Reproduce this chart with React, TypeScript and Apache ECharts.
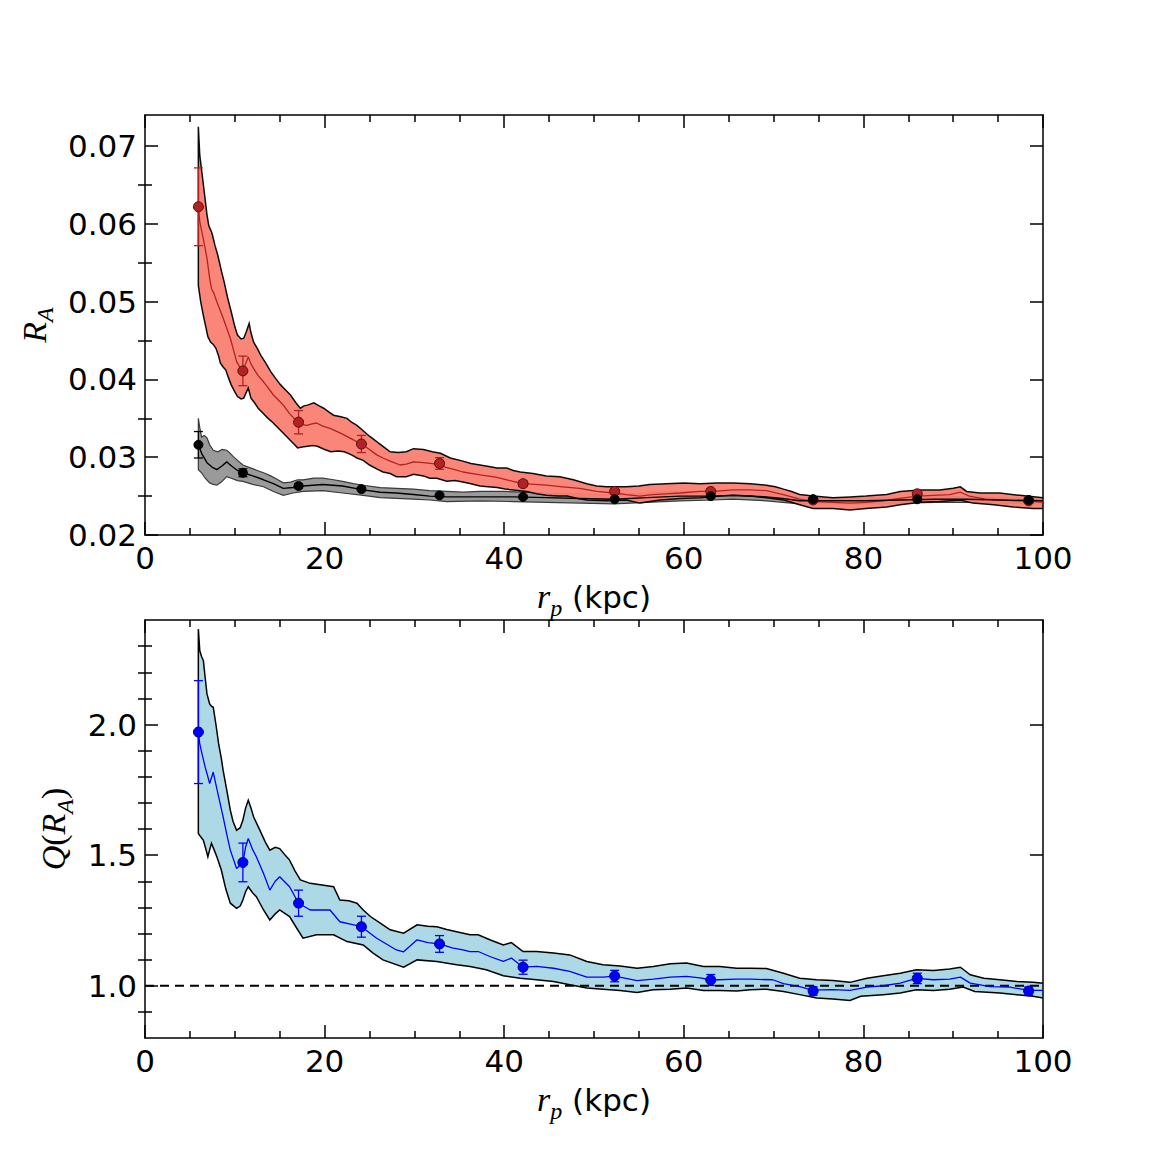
import React, { useEffect, useRef } from "react";
import * as echarts from "echarts";

// ---------- axis ticks ----------
const xMajor = [0, 20, 40, 60, 80, 100];
const yTopMajor = [0.02, 0.03, 0.04, 0.05, 0.06, 0.07];
const yTopMinor = [0.025, 0.035, 0.045, 0.055, 0.065];
const yBotMajor = [1.0, 1.5, 2.0];
const yBotMinor = [0.9, 1.1, 1.2, 1.3, 1.4, 1.6, 1.7, 1.8, 1.9, 2.1, 2.2, 2.3];

// ---------- top panel: R_A ----------
const redUpper = [
  [5.94, 0.0725], [6.1, 0.0688], [6.4, 0.066], [6.6, 0.0641], [6.9, 0.0612], [7.1, 0.0598], [7.4, 0.059], [7.5, 0.0586],
  [7.8, 0.0572], [8.1, 0.056], [8.5, 0.054], [8.8, 0.0526], [9.2, 0.0505], [9.6, 0.0487], [10.0, 0.0468], [10.3, 0.0457],
  [10.7, 0.0452], [11.0, 0.0453], [11.3, 0.0462], [11.6, 0.0472], [11.8, 0.046], [12.1, 0.0448], [12.5, 0.044], [12.9, 0.0431],
  [13.5, 0.042], [14.0, 0.041], [14.5, 0.0402], [15.1, 0.0393], [15.6, 0.0387], [16.2, 0.038], [16.8, 0.037], [17.3, 0.0363],
  [17.7, 0.0366], [18.1, 0.0367], [18.8, 0.037], [19.4, 0.0366], [19.9, 0.0363], [20.5, 0.0358], [21.0, 0.0354], [21.8, 0.0352],
  [22.5, 0.035], [23.0, 0.0345], [23.6, 0.0341], [24.3, 0.0334], [25.0, 0.0327], [25.8, 0.032], [26.5, 0.0314], [27.3, 0.0307],
  [28.2, 0.0306], [29.1, 0.0307], [29.9, 0.0311], [31.0, 0.031], [32.0, 0.0307], [32.9, 0.0305], [34.0, 0.0299], [35.4, 0.0295],
  [36.3, 0.0292], [37.3, 0.029], [38.3, 0.0288], [39.2, 0.0286], [40.3, 0.0286], [41.0, 0.0283], [41.8, 0.0281], [43.2, 0.0279],
  [44.7, 0.0276], [46.2, 0.0275], [47.7, 0.0271], [49.2, 0.0266], [50.3, 0.0263], [51.4, 0.0262], [52.5, 0.0262], [53.6, 0.0262],
  [55.0, 0.0263], [56.2, 0.0265], [58.1, 0.0266], [60.0, 0.0267], [61.8, 0.0266], [63.7, 0.0267], [65.5, 0.0267], [67.4, 0.0266],
  [69.2, 0.0264], [70.2, 0.0262], [71.1, 0.0259], [72.0, 0.0256], [72.9, 0.0252], [74.4, 0.025], [76.6, 0.0248], [78.5, 0.0249],
  [80.3, 0.025], [82.6, 0.0252], [84.1, 0.0256], [86.3, 0.0258], [88.5, 0.0258], [90.0, 0.026], [90.8, 0.0262], [91.5, 0.0256],
  [93.0, 0.0254], [95.2, 0.0254], [97.4, 0.0251], [100, 0.0248],
];
const redLower = [
  [5.94, 0.0521], [6.2, 0.05], [6.5, 0.0482], [6.8, 0.0466], [7.0, 0.0455], [7.3, 0.0448], [7.6, 0.0445], [7.9, 0.044],
  [8.2, 0.043], [8.4, 0.0421], [8.7, 0.0416], [9.0, 0.0412], [9.3, 0.0402], [9.6, 0.0393], [10.0, 0.0384], [10.3, 0.0378],
  [10.7, 0.0375], [11.0, 0.0376], [11.3, 0.0384], [11.5, 0.0389], [11.8, 0.0376], [12.2, 0.037], [12.6, 0.0363], [13.2, 0.0356],
  [13.7, 0.035], [14.2, 0.0345], [14.8, 0.0338], [15.3, 0.0332], [15.9, 0.0325], [16.5, 0.0318], [17.0, 0.0312], [17.5, 0.0313],
  [18.1, 0.0314], [18.7, 0.0315], [19.2, 0.0314], [20.0, 0.031], [20.7, 0.0307], [21.5, 0.0308], [22.2, 0.0307], [23.0, 0.0303],
  [23.6, 0.0299], [24.3, 0.0296], [25.0, 0.029], [25.8, 0.0285], [26.5, 0.0281], [27.3, 0.0279], [28.0, 0.0275], [29.1, 0.0275],
  [29.9, 0.0278], [31.0, 0.0276], [31.7, 0.0273], [32.5, 0.0273], [33.6, 0.0269], [34.5, 0.027], [35.4, 0.0268], [36.3, 0.0266],
  [37.3, 0.0263], [38.2, 0.0262], [39.2, 0.0261], [40.1, 0.0259], [41.0, 0.0258], [42.5, 0.0256], [43.6, 0.0253], [44.7, 0.0251],
  [46.0, 0.025], [47.0, 0.025], [48.2, 0.0247], [49.2, 0.0245], [51.4, 0.0244], [53.6, 0.0245], [55.1, 0.0241], [56.2, 0.0243],
  [57.4, 0.0245], [59.6, 0.0247], [61.8, 0.0248], [64.0, 0.025], [65.5, 0.0251], [67.4, 0.025], [69.2, 0.0248], [71.1, 0.0245],
  [72.0, 0.0242], [72.9, 0.0239], [74.4, 0.0234], [76.6, 0.0234], [78.5, 0.0232], [80.3, 0.0234], [82.6, 0.0236], [84.1, 0.0239],
  [86.3, 0.0242], [88.5, 0.0243], [90.8, 0.0245], [92.2, 0.0241], [94.5, 0.0239], [96.7, 0.0236], [98.9, 0.0234], [100, 0.0234],
];
const redCenter = [
  [5.94, 0.0622], [6.1, 0.0603], [6.5, 0.058], [6.9, 0.0556], [7.2, 0.053], [7.4, 0.0517], [7.7, 0.051], [8.0, 0.05],
  [8.4, 0.0488], [8.7, 0.0479], [9.1, 0.0466], [9.5, 0.0453], [9.9, 0.0436], [10.2, 0.0423], [10.6, 0.0415], [10.9, 0.0411],
  [11.2, 0.042], [11.5, 0.0429], [11.8, 0.042], [12.1, 0.0414], [12.6, 0.0405], [13.2, 0.0397], [13.8, 0.0388], [14.3, 0.038],
  [14.9, 0.0373], [15.4, 0.0367], [16.1, 0.0356], [16.6, 0.035], [17.1, 0.0345], [17.6, 0.0342], [18.0, 0.0341], [18.6, 0.0343],
  [19.1, 0.0344], [19.8, 0.034], [20.6, 0.0337], [21.4, 0.0333], [22.1, 0.0329], [23.1, 0.0323], [24.1, 0.0317], [25.0, 0.031],
  [25.8, 0.0303], [26.5, 0.0299], [27.3, 0.0295], [28.4, 0.029], [29.1, 0.0291], [29.9, 0.0294], [31.0, 0.0293], [32.5, 0.0291],
  [33.5, 0.0287], [34.5, 0.0284], [35.4, 0.0281], [36.5, 0.0279], [37.5, 0.0277], [39.2, 0.0274], [40.3, 0.0271], [41.0, 0.0269],
  [42.1, 0.0266], [43.4, 0.0265], [44.7, 0.0264], [46.5, 0.0262], [48.4, 0.026], [50.3, 0.0256], [52.2, 0.0254], [53.6, 0.0252],
  [55.1, 0.025], [56.5, 0.0252], [58.0, 0.0253], [59.6, 0.0254], [61.8, 0.0256], [63.3, 0.0256], [65.5, 0.0258], [67.4, 0.0258],
  [69.2, 0.0257], [71.1, 0.0252], [72.9, 0.0246], [74.5, 0.0243], [76.6, 0.0242], [78.5, 0.0241], [80.3, 0.0242], [82.2, 0.0244],
  [84.1, 0.0247], [86.0, 0.025], [87.8, 0.0251], [89.6, 0.0252], [90.8, 0.0255], [91.8, 0.025], [93.6, 0.0246], [95.5, 0.0245],
  [97.0, 0.0244], [98.4, 0.0244], [100, 0.0242],
];
const grayUpper = [
  [5.94, 0.035], [6.1, 0.0338], [6.3, 0.0326], [6.6, 0.0328], [6.9, 0.0325], [7.2, 0.0316], [7.6, 0.0309], [8.1, 0.0307],
  [8.6, 0.031], [9.1, 0.0309], [9.5, 0.0305], [9.8, 0.0301], [10.3, 0.0296], [10.9, 0.029], [11.8, 0.0286], [12.5, 0.0283],
  [13.2, 0.028], [14.0, 0.0276], [14.8, 0.0271], [15.4, 0.0267], [16.2, 0.0268], [17.0, 0.0271], [17.6, 0.0271], [18.8, 0.0273],
  [19.8, 0.0273], [21.0, 0.0271], [22.0, 0.0269], [23.2, 0.0266], [24.3, 0.0264], [26.2, 0.0261], [28.0, 0.026], [29.9, 0.0259],
  [31.7, 0.0257], [33.6, 0.0256], [35.4, 0.0255], [37.3, 0.0256], [40.0, 0.0256], [42.0, 0.0255], [44.7, 0.0254], [48.5, 0.0253],
  [52.2, 0.0251], [55.9, 0.0254], [59.6, 0.0256], [63.3, 0.0256], [65.5, 0.0256], [69.2, 0.0254], [71.0, 0.0251], [72.9, 0.0248],
  [76.6, 0.0247], [80.3, 0.0247], [84.1, 0.0248], [88.0, 0.0249], [91.5, 0.0249], [95.2, 0.0248], [100, 0.0247],
];
const grayLower = [
  [5.94, 0.0284], [6.3, 0.028], [6.7, 0.0273], [7.2, 0.0267], [7.6, 0.0265], [8.0, 0.0264], [8.5, 0.0268], [9.1, 0.0275],
  [9.6, 0.0273], [10.3, 0.027], [10.9, 0.0269], [12.0, 0.0265], [13.2, 0.0262], [14.3, 0.0256], [15.4, 0.0251], [16.5, 0.0254],
  [17.6, 0.0256], [19.8, 0.0257], [22.0, 0.0254], [24.3, 0.0251], [26.2, 0.0248], [28.0, 0.0247], [29.9, 0.0246], [31.7, 0.0245],
  [33.6, 0.0243], [37.3, 0.0244], [41.0, 0.0243], [44.7, 0.0242], [48.5, 0.0241], [52.2, 0.024], [55.9, 0.0242], [59.6, 0.0244],
  [63.3, 0.0245], [65.5, 0.0246], [69.2, 0.0244], [71.0, 0.0242], [72.9, 0.024], [76.6, 0.024], [80.3, 0.024], [84.1, 0.0241],
  [88.0, 0.0242], [91.5, 0.0242], [95.2, 0.0241], [100, 0.024],
];
const blackCenter = [
  [5.94, 0.0316], [6.3, 0.0305], [6.9, 0.0293], [7.5, 0.0287], [8.0, 0.0284], [8.6, 0.0289], [9.1, 0.0294], [9.6, 0.0289],
  [10.3, 0.0283], [10.9, 0.028], [12.0, 0.0276], [13.2, 0.0271], [14.3, 0.0266], [15.4, 0.026], [16.5, 0.0261], [17.6, 0.0263],
  [19.8, 0.0265], [22.0, 0.0263], [24.3, 0.0258], [26.2, 0.0255], [28.0, 0.0254], [29.9, 0.0252], [31.7, 0.025], [33.6, 0.0249],
  [37.3, 0.0249], [41.0, 0.0249], [44.7, 0.0248], [48.5, 0.0247], [52.2, 0.0246], [55.9, 0.0248], [59.6, 0.025], [63.3, 0.025],
  [65.5, 0.0251], [69.2, 0.0249], [71.0, 0.0247], [72.9, 0.0244], [76.6, 0.0244], [80.3, 0.0244], [84.1, 0.0245], [88.0, 0.0246],
  [91.5, 0.0246], [95.2, 0.0245], [100, 0.0244],
];

// binned points (shared x positions)
const binX = [5.95, 10.9, 17.1, 24.1, 32.8, 42.1, 52.3, 63.0, 74.4, 86.0, 98.4];
const redPts = [0.0622, 0.0411, 0.0345, 0.0317, 0.0292, 0.0266, 0.0256, 0.0256, 0.0245, 0.0253, 0.0244];
const redErr = [0.005, 0.0019, 0.0015, 0.0011, 0.00075, 0.0004, 0.0003, 0.0003, 0.0003, 0.0003, 0.0003];
const blackPts = [0.0316, 0.028, 0.0263, 0.0259, 0.0251, 0.0249, 0.0246, 0.025, 0.0246, 0.0246, 0.0245];
const blackErr = [0.0017, 0.0005, 0.0003, 0.0002, 0.0001, 0.0001, 0.0001, 0.0001, 0.0001, 0.0001, 0.0001];

// ---------- bottom panel: Q(R_A) ----------
const blueUpper = [
  [5.94, 2.365], [6.1, 2.282], [6.3, 2.26], [6.5, 2.244], [6.7, 2.18], [6.9, 2.117], [7.2, 2.079], [7.4, 2.07],
  [7.6, 2.066], [7.9, 2.0], [8.2, 1.926], [8.5, 1.87], [8.7, 1.824], [9.1, 1.75], [9.5, 1.672], [9.8, 1.63],
  [10.2, 1.595], [10.6, 1.605], [10.9, 1.634], [11.2, 1.68], [11.5, 1.71], [11.8, 1.68], [12.1, 1.646], [12.8, 1.595],
  [13.4, 1.55], [13.9, 1.519], [14.5, 1.53], [15.0, 1.525], [15.6, 1.5], [16.1, 1.481], [16.7, 1.44], [17.3, 1.405],
  [18.4, 1.392], [19.9, 1.385], [21.0, 1.379], [21.7, 1.328], [22.7, 1.325], [23.6, 1.316], [24.3, 1.29], [25.1, 1.265],
  [26.2, 1.24], [27.3, 1.214], [28.8, 1.201], [30.3, 1.233], [31.5, 1.228], [32.5, 1.226], [33.6, 1.215], [34.7, 1.207],
  [36.2, 1.195], [37.1, 1.195], [38.4, 1.176], [39.9, 1.156], [40.8, 1.165], [42.1, 1.131], [43.6, 1.131], [45.5, 1.125],
  [47.3, 1.118], [49.2, 1.093], [51.0, 1.08], [52.9, 1.076], [54.8, 1.067], [56.6, 1.074], [58.5, 1.084], [60.3, 1.087],
  [62.2, 1.074], [64.0, 1.074], [65.9, 1.067], [67.4, 1.067], [69.2, 1.066], [71.1, 1.048], [72.9, 1.029], [74.8, 1.023],
  [76.6, 1.02], [78.5, 1.013], [80.4, 1.029], [82.2, 1.038], [84.1, 1.048], [85.9, 1.061], [87.8, 1.058], [89.6, 1.064],
  [90.8, 1.071], [91.9, 1.042], [93.4, 1.029], [95.2, 1.023], [97.1, 1.016], [98.9, 1.013], [100, 1.01],
];
const blueLower = [
  [5.94, 1.583], [6.2, 1.57], [6.5, 1.557], [6.8, 1.52], [7.0, 1.494], [7.2, 1.52], [7.4, 1.545], [7.7, 1.52],
  [8.0, 1.494], [8.5, 1.443], [9.0, 1.37], [9.5, 1.316], [10.2, 1.296], [10.6, 1.305], [10.9, 1.328], [11.2, 1.36],
  [11.5, 1.379], [12.0, 1.355], [12.4, 1.341], [13.2, 1.29], [13.9, 1.252], [14.5, 1.275], [15.0, 1.29], [16.1, 1.265],
  [16.9, 1.22], [17.6, 1.182], [19.1, 1.195], [21.0, 1.195], [22.5, 1.169], [24.3, 1.156], [25.4, 1.125], [26.5, 1.099],
  [28.8, 1.071], [30.3, 1.099], [32.5, 1.093], [34.7, 1.08], [36.2, 1.074], [38.0, 1.061], [39.9, 1.038], [41.8, 1.029],
  [43.6, 1.023], [45.5, 1.016], [47.3, 1.004], [49.2, 0.991], [51.0, 0.987], [52.9, 0.982], [54.8, 0.974], [56.6, 0.985],
  [58.5, 0.987], [60.3, 0.991], [62.2, 0.982], [64.0, 0.982], [65.9, 0.98], [67.4, 0.985], [69.2, 0.987], [71.1, 0.978],
  [72.9, 0.966], [74.8, 0.953], [76.6, 0.949], [78.5, 0.944], [79.7, 0.96], [82.2, 0.966], [84.1, 0.972], [85.9, 0.985],
  [87.8, 0.982], [89.6, 0.987], [91.1, 0.995], [92.4, 0.978], [95.2, 0.972], [97.1, 0.966], [98.9, 0.96], [100, 0.953],
];
const blueCenter = [
  [5.94, 1.971], [6.1, 1.926], [6.4, 1.88], [6.7, 1.837], [7.0, 1.8], [7.2, 1.774], [7.6, 1.818], [7.9, 1.77],
  [8.2, 1.723], [8.7, 1.646], [9.1, 1.58], [9.5, 1.519], [10.2, 1.449], [10.9, 1.472], [11.2, 1.53], [11.5, 1.564],
  [12.0, 1.52], [12.4, 1.494], [13.2, 1.43], [13.9, 1.366], [14.5, 1.4], [15.0, 1.417], [16.1, 1.379], [17.1, 1.316],
  [18.4, 1.29], [20.6, 1.29], [21.7, 1.245], [23.0, 1.235], [24.1, 1.226], [25.8, 1.182], [28.0, 1.137], [28.8, 1.13],
  [30.3, 1.176], [31.5, 1.165], [32.8, 1.16], [34.2, 1.145], [35.4, 1.137], [36.2, 1.131], [37.1, 1.131], [38.4, 1.112],
  [39.9, 1.093], [40.8, 1.106], [42.1, 1.071], [43.6, 1.074], [45.5, 1.067], [47.3, 1.055], [49.2, 1.033], [51.0, 1.033],
  [52.3, 1.037], [54.8, 1.02], [56.6, 1.025], [58.5, 1.033], [60.3, 1.036], [61.8, 1.03], [63.1, 1.022], [65.9, 1.025],
  [67.4, 1.025], [69.9, 1.023], [71.1, 1.008], [72.9, 0.997], [74.3, 0.983], [76.6, 0.985], [78.5, 0.982], [80.4, 0.995],
  [82.2, 1.0], [84.1, 1.01], [85.9, 1.028], [87.8, 1.023], [89.6, 1.025], [90.8, 1.033], [91.9, 1.01], [94.1, 0.997],
  [96.3, 0.995], [98.4, 0.982], [100, 0.982],
];
const bluePts = [1.971, 1.472, 1.316, 1.226, 1.16, 1.071, 1.037, 1.022, 0.98, 1.028, 0.98];
const blueErr = [0.197, 0.074, 0.05, 0.04, 0.032, 0.027, 0.022, 0.021, 0.016, 0.02, 0.015];
const refLine = [[0, 1.0], [100, 1.0]];

// ---------- styling ----------
const SANS = "'DejaVu Sans', sans-serif";
const MATH = "'Liberation Serif', 'DejaVu Serif', serif";
const BLACK = "#000000";

const nameRich = {
  i: { fontFamily: MATH, fontStyle: "italic", fontSize: 34, lineHeight: 46, verticalAlign: "middle", color: BLACK },
  u: { fontFamily: MATH, fontSize: 34, lineHeight: 46, verticalAlign: "middle", color: BLACK },
  s: { fontFamily: MATH, fontStyle: "italic", fontSize: 24, lineHeight: 24, verticalAlign: "bottom", color: BLACK },
  t: { fontFamily: SANS, fontSize: 31, lineHeight: 46, verticalAlign: "middle", color: BLACK },
};

const lineW = 1.5;
const axisLineStyle = { show: true, onZero: false, lineStyle: { color: BLACK, width: lineW } };

function xAxes(gridIndex: number, name: string, nameGap: number) {
  const base = {
    type: "value",
    gridIndex,
    min: xMajor[0],
    max: xMajor[xMajor.length - 1],
    interval: 20,
    axisLine: axisLineStyle,
    axisTick: { show: true, inside: true, length: 13, lineStyle: { color: BLACK, width: lineW } },
    minorTick: { show: true, splitNumber: 4, length: 7, lineStyle: { color: BLACK, width: lineW } },
    splitLine: { show: false },
    minorSplitLine: { show: false },
  };
  return [
    {
      ...base,
      position: "bottom",
      axisLabel: { show: true, fontSize: 31, color: BLACK, fontFamily: SANS, margin: 7 },
      name,
      nameLocation: "middle",
      nameGap,
      nameTextStyle: { fontSize: 31, lineHeight: 46, color: BLACK, fontFamily: SANS, rich: nameRich },
    },
    { ...base, position: "top", axisLabel: { show: false } },
  ];
}

function yAxes(
  gridIndex: number,
  min: number,
  max: number,
  major: number[],
  minor: number[],
  digits: number,
  name: string,
  nameGap: number
) {
  const base = { type: "value", gridIndex, min, max, splitLine: { show: false }, minorSplitLine: { show: false } };
  const majorTick = { show: true, inside: true, length: 13, customValues: major, lineStyle: { color: BLACK, width: lineW } };
  const minorTickCfg = { show: true, inside: true, length: 7, customValues: minor, lineStyle: { color: BLACK, width: lineW } };
  return [
    {
      ...base,
      position: "left",
      axisLine: axisLineStyle,
      axisTick: majorTick,
      axisLabel: {
        show: true,
        customValues: major,
        formatter: (v: number) => v.toFixed(digits),
        fontSize: 31,
        color: BLACK,
        fontFamily: SANS,
        margin: 8,
      },
      name,
      nameLocation: "middle",
      nameGap,
      nameTextStyle: { fontSize: 31, lineHeight: 46, color: BLACK, fontFamily: SANS, rich: nameRich },
    },
    { ...base, position: "left", axisLine: { show: false }, axisTick: minorTickCfg, axisLabel: { show: false } },
    { ...base, position: "right", axisLine: axisLineStyle, axisTick: majorTick, axisLabel: { show: false } },
    { ...base, position: "right", axisLine: { show: false }, axisTick: minorTickCfg, axisLabel: { show: false } },
  ];
}

function band(
  upper: number[][],
  lower: number[][],
  fill: string,
  stroke: string,
  xi: number,
  yi: number,
  z: number,
  opacity = 1,
  strokeW = 1.5
) {
  return {
    type: "custom",
    xAxisIndex: xi,
    yAxisIndex: yi,
    z,
    silent: true,
    clip: true,
    encode: { x: 0, y: 1 },
    data: [upper[0]],
    renderItem: (_params: any, api: any) => {
      const pts = upper
        .map((p) => api.coord(p))
        .concat(lower.slice().reverse().map((p) => api.coord(p)));
      return {
        type: "polygon",
        shape: { points: pts },
        style: { fill, stroke, lineWidth: strokeW, opacity },
      };
    },
  };
}

function centerLine(data: number[][], color: string, xi: number, yi: number, z: number, width = 1.3) {
  return {
    type: "line",
    xAxisIndex: xi,
    yAxisIndex: yi,
    z,
    data,
    showSymbol: false,
    symbol: "none",
    silent: true,
    lineStyle: { color, width },
  };
}

function errorBars(xs: number[], ys: number[], es: number[], color: string, xi: number, yi: number, z: number) {
  return {
    type: "custom",
    xAxisIndex: xi,
    yAxisIndex: yi,
    z,
    silent: true,
    encode: { x: 0, y: 1 },
    data: xs.map((x, i) => [x, ys[i], es[i]]),
    renderItem: (_params: any, api: any) => {
      const x = api.value(0);
      const y = api.value(1);
      const e = api.value(2);
      const top = api.coord([x, y + e]);
      const bot = api.coord([x, y - e]);
      const w = 4.5;
      const style = { stroke: color, lineWidth: 1.3 };
      return {
        type: "group",
        children: [
          { type: "line", shape: { x1: top[0], y1: top[1], x2: bot[0], y2: bot[1] }, style },
          { type: "line", shape: { x1: top[0] - w, y1: top[1], x2: top[0] + w, y2: top[1] }, style },
          { type: "line", shape: { x1: bot[0] - w, y1: bot[1], x2: bot[0] + w, y2: bot[1] }, style },
        ],
      };
    },
  };
}

function points(xs: number[], ys: number[], color: string, border: string, xi: number, yi: number, z: number, size = 10) {
  return {
    type: "scatter",
    xAxisIndex: xi,
    yAxisIndex: yi,
    z,
    silent: true,
    symbol: "circle",
    symbolSize: size,
    data: xs.map((x, i) => [x, ys[i]]),
    itemStyle: { color, borderColor: border, borderWidth: 1, opacity: 1 },
  };
}

export default function App() {
  const ref = useRef<HTMLDivElement>(null);

  useEffect(() => {
    if (!ref.current) return;
    const chart = echarts.init(ref.current, undefined, { renderer: "svg" });

    const option = {
      animation: false,
      backgroundColor: "#ffffff",
      grid: [
        { left: 145, top: 115, width: 898, height: 420, containLabel: false },
        { left: 145, top: 620, width: 898, height: 418, containLabel: false },
      ],
      xAxis: [...xAxes(0, "{i|r}{s|p}{t| (kpc)}", 37), ...xAxes(1, "{i|r}{s|p}{t| (kpc)}", 38)],
      yAxis: [
        ...yAxes(0, 0.02, 0.074, yTopMajor, yTopMinor, 2, "{i|R}{s|A}", 82),
        ...yAxes(1, 0.8, 2.4, yBotMajor, yBotMinor, 1, "{i|Q}{u|(}{i|R}{s|A}{u|)}", 66),
      ],
      series: [
        // top panel
        band(grayUpper, grayLower, "#9a9a9a", "#3a3a3a", 0, 0, 2, 1, 1.2),
        band(redUpper, redLower, "#FA8072", "#000000", 0, 0, 3, 0.95, 1.5),
        centerLine(redCenter, "#B22222", 0, 0, 4, 1.3),
        centerLine(blackCenter, "#000000", 0, 0, 4, 1.4),
        errorBars(binX, redPts, redErr, "#B22222", 0, 0, 5),
        errorBars(binX, blackPts, blackErr, "#000000", 0, 0, 5),
        points(binX, redPts, "#B22222", "#5a0d0d", 0, 0, 6, 10),
        points(binX, blackPts, "#000000", "#000000", 0, 0, 7, 9),
        // bottom panel
        band(blueUpper, blueLower, "#ADD8E6", "#000000", 2, 4, 2),
        {
          type: "line",
          xAxisIndex: 2,
          yAxisIndex: 4,
          z: 4,
          data: refLine,
          showSymbol: false,
          symbol: "none",
          silent: true,
          lineStyle: { color: BLACK, width: 2, type: [9, 6] },
        },
        centerLine(blueCenter, "#0000FF", 2, 4, 5, 1.3),
        errorBars(binX, bluePts, blueErr, "#0000FF", 2, 4, 6),
        points(binX, bluePts, "#0000FF", "#000080", 2, 4, 7, 10),
      ],
    };

    chart.setOption(option as any);
    return () => {
      chart.dispose();
    };
  }, []);

  return (
    <div
      ref={ref}
      style={{ position: "absolute", left: 0, top: 0, width: 1159, height: 1155, background: "#ffffff" }}
    />
  );
}
